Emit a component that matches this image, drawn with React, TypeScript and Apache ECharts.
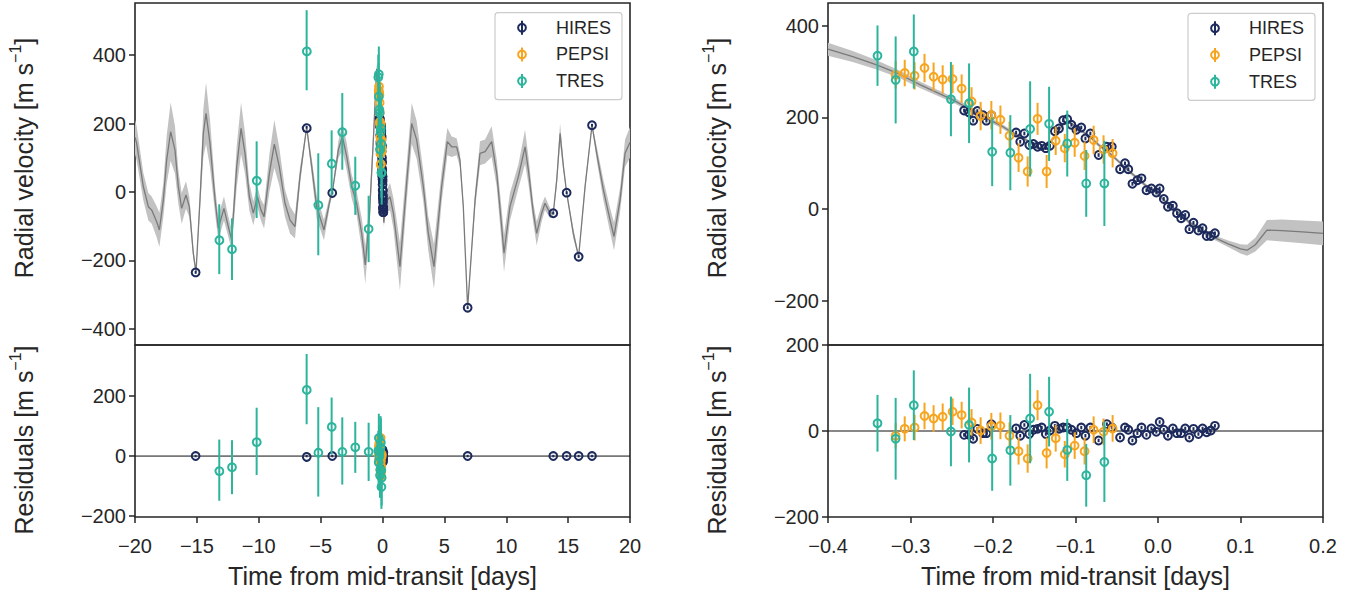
import React, { useEffect, useRef } from 'react';
import * as echarts from 'echarts';

// ---------- data ----------
// model (GP) over the full baseline: [time (d), mean RV, 1-sigma]
const leftModel = [
  [-20,160,50],[-19.865,142,50],[-19.33,16,40],[-18.92,-43,40],[-18.65,-53,40],[-18.25,-87,45],[-18.03,-111,50],
  [-17.71,-23,50],[-17.44,94,70],[-17.12,176,85],[-16.77,123,70],[-16.5,16,50],[-16.23,-48,45],[-15.88,-9,40],
  [-15.61,-43,30],[-15.29,-179,15],[-15.07,-235,5],[-14.75,-23,30],[-14.48,171,70],[-14.26,230,90],[-13.94,142,70],
  [-13.53,-23,40],[-13.27,-106,35],[-12.81,-48,35],[-12.46,-101,30],[-12.19,-140,30],[-11.78,74,60],[-11.43,186,75],
  [-11.11,113,60],[-10.76,-14,40],[-10.44,-62,35],[-10.11,-14,30],[-9.82,-53,30],[-9.57,-72,35],[-9.14,55,55],
  [-8.74,140,70],[-8.34,74,55],[-7.88,-33,40],[-7.47,-82,40],[-7.07,-101,35],[-6.67,45,25],[-6.13,189,5],
  [-5.72,74,25],[-5.32,-43,35],[-4.73,-111,30],[-4.24,-23,15],[-4.06,-3,5],[-3.57,123,25],[-3.24,162,40],
  [-2.89,103,40],[-2.49,16,35],[-2.09,-33,35],[-1.68,-121,45],[-1.39,-213,55],[-1.06,-72,40],[-0.74,152,30],
  [-0.47,360,15],[-0.3,290,8],[-0.2,195,5],[-0.115,186,5],[0,35,5],[0.069,-63,5],[0.108,-90,12],[0.25,-30,30],
  [0.61,-14,40],[0.88,-62,45],[1.41,-218,70],[1.95,25,55],[2.36,200,60],[2.76,152,55],[3.3,16,45],[3.7,-121,50],
  [4.16,-218,65],[4.78,16,45],[5.24,147,40],[5.59,132,30],[5.99,132,25],[6.26,93,20],[6.53,-43,15],[6.88,-338,5],
  [7.48,-23,25],[7.88,113,35],[8.29,118,35],[8.82,147,45],[9.23,55,40],[9.63,-101,50],[9.82,-179,55],[10.3,-43,40],
  [10.98,45,35],[11.52,132,50],[11.79,64,40],[12.19,-62,30],[12.46,-121,35],[12.86,-62,25],[13.13,-33,20],
  [13.54,-62,15],[13.8,-62,5],[14.08,35,20],[14.35,171,30],[14.62,74,15],[14.88,-2,5],[15.42,-121,15],
  [15.85,-189,5],[16.37,16,15],[16.93,195,5],[17.31,113,20],[17.85,6,30],[18.39,-82,35],[18.71,-130,40],
  [19.2,-23,35],[19.6,113,40],[20,145,45],
];

// model around the transit night: [time (d), mean RV, 1-sigma]
const rightModel = [
  [-0.4,349,14],[-0.37,333,12],[-0.341,315,10],[-0.314,295,8],[-0.288,271,7],[-0.248,238,6],[-0.208,198,5],
  [-0.19,182,5],[-0.172,162,4],[-0.165,156,4],[-0.16,151,4],[-0.15,139,4],[-0.142,131,4],[-0.134,140,4],
  [-0.125,158,4],[-0.115,186,4],[-0.108,191,4],[-0.098,177,4],[-0.088,165,4],[-0.082,157,4],[-0.072,140,4],
  [-0.06,124,4],[-0.046,101,4],[-0.036,84,4],[-0.025,67,4],[-0.014,50,4],[-0.002,37,4],[0.007,19,4],
  [0.018,3,4],[0.028,-13,4],[0.038,-29,4],[0.049,-41,4],[0.059,-55,4],[0.069,-63,5],[0.085,-76,7],
  [0.1,-87,10],[0.108,-90,12],[0.118,-78,15],[0.132,-46,22],[0.15,-47,24],[0.175,-50,25],[0.2,-53,26],
];

// observations: [time (d), RV, error, residual]
const hiresFar = [
  [-15.1,-235,4,0],[-6.13,189,4,0],[-4.06,-3,4,0],[6.88,-338,4,0],[13.8,-62,4,0],[14.88,-2,4,0],[15.85,-189,4,0],[16.93,195,4,0],
];
const tresFar = [
  [-13.19,-138,102,-47],[-12.16,-167,90,-37],[-10.17,36,112,49],[-6.13,414,117,223],[-5.19,-36,149,14],
  [-4.11,85,95,100],[-3.25,177,112,17],[-2.2,18,85,29],[-1.12,-108,97,14],
];
const hiresNight = [
  [-0.235,215,4,-9],[-0.229,211,4,-9],[-0.224,193,4,-18],[-0.219,214,4,5],[-0.212,205,4,-5],[-0.208,193,4,-5],
  [-0.202,205,4,16],[-0.172,167,4,6],[-0.167,147,4,-11],[-0.162,165,4,14],[-0.156,140,4,-7],[-0.151,142,4,3],
  [-0.146,136,4,5],[-0.141,138,4,8],[-0.136,133,4,-7],[-0.131,138,4,1],[-0.125,170,4,12],[-0.12,176,4,5],
  [-0.115,194,4,8],[-0.11,196,4,8],[-0.105,184,4,3],[-0.099,173,4,-5],[-0.093,178,4,8],[-0.088,154,4,-11],
  [-0.082,165,4,8],[-0.072,118,4,-22],[-0.062,136,4,16],[-0.056,136,4,8],[-0.046,87,4,-15],[-0.04,100,4,8],
  [-0.036,87,4,3],[-0.031,55,4,-22],[-0.025,63,4,-5],[-0.02,67,4,8],[-0.014,41,4,-9],[-0.008,45,4,6],
  [-0.002,36,4,-2],[0.002,45,4,21],[0.007,22,4,3],[0.012,5,4,-11],[0.018,7,4,6],[0.023,-9,4,-5],
  [0.028,-20,4,-5],[0.033,-13,4,6],[0.038,-44,4,-15],[0.043,-30,4,5],[0.049,-47,4,-7],[0.054,-42,4,6],
  [0.059,-59,4,-3],[0.064,-59,4,1],[0.069,-53,4,12],
];
const pepsiNight = [
  [-0.318,293,30,-11],[-0.307,297,29,5],[-0.295,291,30,8],[-0.283,308,31,35],[-0.272,289,31,29],
  [-0.261,283,31,33],[-0.249,284,31,45],[-0.238,263,31,37],[-0.226,235,31,20],[-0.215,203,31,1],
  [-0.202,205,31,11],[-0.191,195,31,12],[-0.18,160,31,-11],[-0.169,112,31,-47],[-0.158,82,33,-64],
  [-0.146,197,35,60],[-0.135,82,36,-51],[-0.124,149,31,-17],[-0.113,133,31,-54],[-0.101,145,31,-34],
  [-0.089,116,31,-47],[-0.078,151,31,3],[-0.066,130,31,-2],[-0.055,122,31,6],
];
const tresNight = [
  [-0.34,335,66,18],[-0.318,282,95,-18],[-0.296,344,81,60],[-0.251,240,81,-1],[-0.229,231,87,14],
  [-0.201,125,75,-64],[-0.179,123,82,-45],[-0.155,175,104,29],[-0.132,186,81,45],[-0.11,143,72,-44],
  [-0.087,56,73,-103],[-0.065,56,93,-72],
];

const instruments = ['HIRES', 'PEPSI', 'TRES'];
const yTicksRV = [-400, -200, 0, 200, 400];
const yTicksRVZoom = [-200, 0, 200, 400];
const yTicksRes = [-200, 0, 200];

// ---------- styles ----------
const FONT = "'Liberation Sans', Arial, Helvetica, sans-serif";
const INK = '#262626';
const COLORS: Record<string, string> = { HIRES: '#1c2a5c', PEPSI: '#f7a520', TRES: '#2cb49c' };
const BAND = '#c2c2c2';
const LINE = '#7a7a7a';
const TICK_FS = 20;
const LABEL_FS = 25;

const minus = (s: string) => s.replace('-', '\u2212');

function bandSeries(model: number[][], idx: number) {
  const mid = model[Math.floor(model.length / 2)];
  return {
    type: 'custom', xAxisIndex: idx, yAxisIndex: idx, silent: true, z: 1, clip: true,
    data: [[mid[0], mid[1]]],
    encode: { x: 0, y: 1 },
    renderItem: (_p: any, api: any) => {
      const upper = model.map((m) => api.coord([m[0], m[1] + m[2]]));
      const lower = model.slice().reverse().map((m) => api.coord([m[0], m[1] - m[2]]));
      return { type: 'polygon', shape: { points: upper.concat(lower) }, style: { fill: BAND } };
    },
  };
}

function lineSeries(model: number[][], idx: number) {
  return {
    type: 'line', xAxisIndex: idx, yAxisIndex: idx, silent: true, z: 2, clip: true,
    data: model.map((m) => [m[0], m[1]]), symbol: 'none',
    lineStyle: { color: LINE, width: 1.3 },
  };
}

function zeroSeries(idx: number, x0: number, x1: number) {
  return {
    type: 'line', xAxisIndex: idx, yAxisIndex: idx, silent: true, z: 2,
    data: [[x0, 0], [x1, 0]], symbol: 'none', lineStyle: { color: '#111111', width: 1 },
  };
}

function pointSeries(name: string, rows: number[][], idx: number, useRes: boolean, z: number) {
  const color = COLORS[name];
  return {
    type: 'custom', name, xAxisIndex: idx, yAxisIndex: idx, z, clip: true,
    data: rows.map((r) => [r[0], useRes ? r[3] : r[1], r[2]]),
    encode: { x: 0, y: 1 },
    renderItem: (_p: any, api: any) => {
      const x = api.value(0), y = api.value(1), e = api.value(2);
      const c = api.coord([x, y]);
      const t = api.coord([x, y + e]);
      const b = api.coord([x, y - e]);
      return {
        type: 'group',
        children: [
          { type: 'line', shape: { x1: c[0], y1: t[1], x2: c[0], y2: b[1] }, style: { stroke: color, lineWidth: 2 } },
          { type: 'circle', shape: { cx: c[0], cy: c[1], r: 3.9 }, style: { fill: 'none', stroke: color, lineWidth: 2 } },
        ],
      };
    },
  };
}

function legendGraphic(x0: number, y0: number) {
  const els: any[] = [
    { type: 'rect', z: 100, shape: { x: x0, y: y0, width: 127, height: 87, r: 3 },
      style: { fill: 'rgba(255,255,255,0.85)', stroke: '#cccccc', lineWidth: 1.2 } },
  ];
  instruments.forEach((name, i) => {
    const yi = y0 + 15 + i * 26.7;
    const xi = x0 + 27;
    const color = COLORS[name];
    els.push({ type: 'line', z: 101, shape: { x1: xi, y1: yi - 7, x2: xi, y2: yi + 7 }, style: { stroke: color, lineWidth: 2 } });
    els.push({ type: 'circle', z: 101, shape: { cx: xi, cy: yi, r: 3.9 }, style: { fill: 'none', stroke: color, lineWidth: 2 } });
    els.push({ type: 'text', z: 101, x: x0 + 61, y: yi,
      style: { text: name, fontSize: 18, fontFamily: FONT, fill: INK, verticalAlign: 'middle', align: 'left' } });
  });
  return els;
}

export default function App() {
  const ref = useRef<HTMLDivElement>(null);
  useEffect(() => {
    if (!ref.current) return;
    const chart = echarts.init(ref.current, null, { renderer: 'svg' });

    const gridBoxes = [
      { left: 135, top: 3, width: 495, height: 342 },
      { left: 135, top: 345, width: 495, height: 172 },
      { left: 828, top: 3, width: 495, height: 342 },
      { left: 828, top: 345, width: 495, height: 172 },
    ];
    const yCfg = [
      { min: -447, max: 552, ticks: yTicksRV, label: 'Radial velocity', pad: [0, 0, 0, 32] },
      { min: -203, max: 370, ticks: yTicksRes, label: 'Residuals', pad: [0, 18, 0, 0] },
      { min: -297, max: 450, ticks: yTicksRVZoom, label: 'Radial velocity', pad: [0, 0, 0, 32] },
      { min: -200, max: 200, ticks: yTicksRes, label: 'Residuals', pad: [0, 18, 0, 0] },
    ];
    const richName = {
      n: { fontSize: LABEL_FS, fontFamily: FONT, color: INK, lineHeight: 29, verticalAlign: 'bottom' },
      s: { fontSize: 16, fontFamily: FONT, color: INK, lineHeight: 13, verticalAlign: 'top' },
    };

    const option: any = {
      animation: false,
      grid: gridBoxes.map((g) => ({ ...g, show: true, borderColor: INK, borderWidth: 1.6, backgroundColor: 'transparent' })),
      xAxis: [0, 1, 2, 3].map((i) => {
        const wide = i < 2;
        const bottom = i % 2 === 1;
        return {
          type: 'value', gridIndex: i,
          min: wide ? -20 : -0.4, max: wide ? 20 : 0.2, interval: wide ? 5 : 0.1,
          axisLine: { show: false, onZero: false },
          splitLine: { show: false },
          axisTick: { show: bottom, length: 6, lineStyle: { color: INK, width: 1.5 } },
          axisLabel: {
            show: bottom, fontSize: TICK_FS, fontFamily: FONT, color: INK, margin: 19,
            formatter: (v: number) => wide ? minus(String(Math.round(v))) : (Math.abs(v) < 1e-9 ? '0.0' : minus(v.toFixed(1))),
          },
          name: bottom ? 'Time from mid-transit [days]' : '',
          nameLocation: 'middle', nameGap: 46,
          nameTextStyle: { fontSize: LABEL_FS, fontFamily: FONT, color: INK },
        };
      }),
      yAxis: yCfg.map((c, i) => ({
        type: 'value', gridIndex: i, min: c.min, max: c.max,
        axisLine: { show: false, onZero: false },
        splitLine: { show: false },
        axisTick: { show: true, length: 6, customValues: c.ticks, lineStyle: { color: INK, width: 1.5 } },
        axisLabel: {
          show: true, customValues: c.ticks, fontSize: TICK_FS, fontFamily: FONT, color: INK, margin: 9,
          formatter: (v: number) => minus(String(Math.round(v))),
        },
        name: `{n|${c.label} [m s}{s|\u22121}{n|]}`,
        nameLocation: 'middle', nameRotate: 90, nameGap: 99,
        nameTextStyle: { fontFamily: FONT, color: INK, rich: richName, padding: c.pad },
      })),
      series: [
        // left top: full baseline
        bandSeries(leftModel, 0),
        lineSeries(leftModel, 0),
        pointSeries('HIRES', hiresFar.concat(hiresNight), 0, false, 3),
        pointSeries('PEPSI', pepsiNight, 0, false, 4),
        pointSeries('TRES', tresFar.concat(tresNight), 0, false, 5),
        // left bottom: residuals
        zeroSeries(1, -20, 20),
        pointSeries('HIRES', hiresFar.concat(hiresNight), 1, true, 3),
        pointSeries('PEPSI', pepsiNight, 1, true, 4),
        pointSeries('TRES', tresFar.concat(tresNight), 1, true, 5),
        // right top: transit night
        bandSeries(rightModel, 2),
        lineSeries(rightModel, 2),
        pointSeries('HIRES', hiresNight, 2, false, 3),
        pointSeries('PEPSI', pepsiNight, 2, false, 4),
        pointSeries('TRES', tresNight, 2, false, 5),
        // right bottom: residuals
        zeroSeries(3, -0.4, 0.2),
        pointSeries('HIRES', hiresNight, 3, true, 3),
        pointSeries('PEPSI', pepsiNight, 3, true, 4),
        pointSeries('TRES', tresNight, 3, true, 5),
      ],
      graphic: { elements: [...legendGraphic(495, 12.7), ...legendGraphic(1188, 13.3)] },
    };
    chart.setOption(option);
    return () => chart.dispose();
  }, []);
  return (
    <div
      ref={ref}
      style={{ position: 'absolute', left: 0, top: 0, width: 1363, height: 596, background: '#ffffff' }}
    />
  );
}
